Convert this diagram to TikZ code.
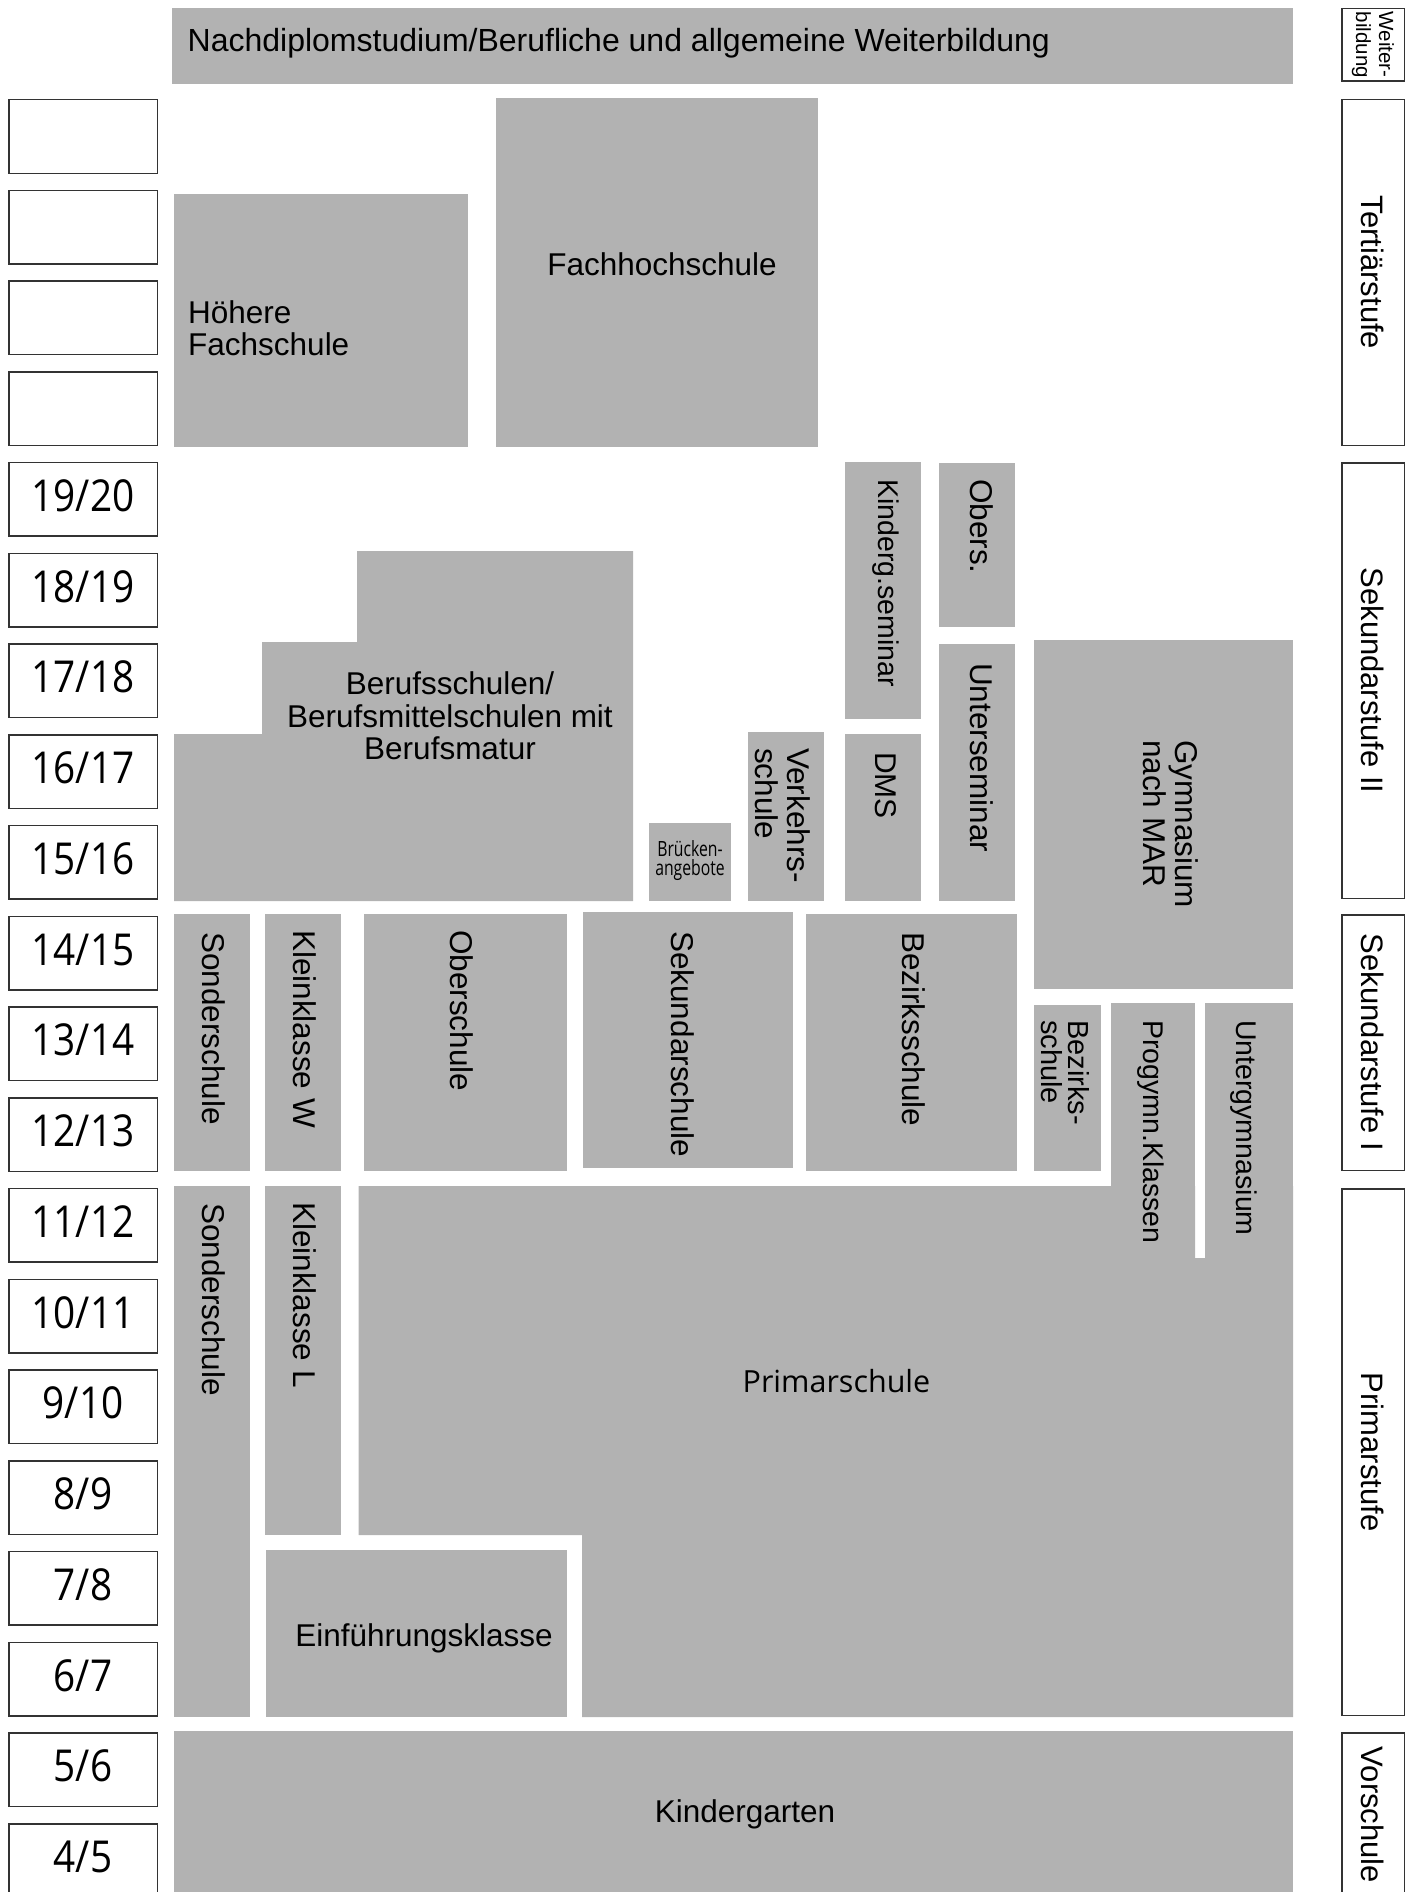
\documentclass[tikz,border=0pt]{standalone}
\usepackage{fontspec}
\setmainfont{Liberation Sans}
\newfontfamily\agefont[FakeStretch=0.88]{Open Sans}
\newfontfamily\primfont{Open Sans}
\newfontfamily\narrowfont[FakeStretch=0.75]{Open Sans}
\usetikzlibrary{positioning}
\definecolor{boxgray}{RGB}{178,178,178}

\begin{document}
\begin{tikzpicture}[x=1pt, y=-1pt, node distance=15.74pt,
  age/.style={rectangle, draw=black!80, line width=1.5pt, fill=white, minimum width=148.5pt, minimum height=73.5pt,
    inner sep=0pt, text height=31pt, text depth=7pt, font=\agefont\fontsize{44}{44}\selectfont},
  stage/.style={rectangle, draw=black!80, line width=1.5pt, rotate=-90, minimum height=62.5pt, inner sep=0pt,
    font=\fontsize{31}{32}\selectfont},
  school/.style={fill=boxgray},
  lbl/.style={inner sep=0pt, font=\fontsize{31.5}{32}\selectfont},
  vlbl/.style={lbl, rotate=-90, anchor=west, align=left}]
  \useasboundingbox (0,0) rectangle (1414,1892);
  \node[age] (a0) at (83,136.5) {};
  \node[age, below=of a0] (a1) {};
  \node[age, below=of a1] (a2) {};
  \node[age, below=of a2] (a3) {};
  \node[age, below=of a3] (a4) {19/20};
  \node[age, below=of a4] (a5) {18/19};
  \node[age, below=of a5] (a6) {17/18};
  \node[age, below=of a6] (a7) {16/17};
  \node[age, below=of a7] (a8) {15/16};
  \node[age, below=of a8] (a9) {14/15};
  \node[age, below=of a9] (a10) {13/14};
  \node[age, below=of a10] (a11) {12/13};
  \node[age, below=of a11] (a12) {11/12};
  \node[age, below=of a12] (a13) {10/11};
  \node[age, below=of a13] (a14) {9/10};
  \node[age, below=of a14] (a15) {8/9};
  \node[age, below=of a15] (a16) {7/8};
  \node[age, below=of a16] (a17) {6/7};
  \node[age, below=of a17] (a18) {5/6};
  \node[age, below=of a18] (a19) {4/5};
  \node[stage, minimum width=72.5pt, align=left, font=\fontsize{20.5}{23}\selectfont] (weiter) at (1373,45) {Weiter-\\bildung};
  \node[stage, minimum width=345.5pt] (tert) at (1373,272.5) {Tertiärstufe};
  \node[stage, minimum width=435.5pt] (sek2) at (1373,680.5) {Sekundarstufe II};
  \node[stage, minimum width=255.5pt] (sek1) at (1373,1042.5) {Sekundarstufe I};
  \node[stage, minimum width=526.5pt] (prims) at (1373,1452) {Primarstufe};
  \node[stage, minimum width=164.5pt] (vors) at (1373,1815) {Vorschule};
  \fill[school] (172,8) rectangle (1293,84);
  \node[lbl, anchor=base west, font=\fontsize{32}{32}\selectfont] (nach) at (187.5,52) {Nachdiplomstudium/Berufliche und allgemeine Weiterbildung};
  \fill[school] (174,194) rectangle (468,447);
  \node[lbl, anchor=west, align=left] (hfs) at (188,328) {Höhere\\Fachschule};
  \fill[school] (495.5,98) rectangle (818,447);
  \node[lbl, anchor=base] (fh) at (662,275) {Fachhochschule};
  \fill[school] (174,901) -- (174,734) -- (262,734) -- (262,642) -- (357,642) -- (357,551) -- (633,551) -- (633,901) -- cycle;
  \node[lbl, align=center, font=\fontsize{31.5}{32.5}\selectfont] (bms) at (450,716) {Berufsschulen/\\Berufsmittelschulen mit\\Berufsmatur};
  \fill[school] (649,823) rectangle (731,901);
  \node[inner sep=0pt, align=center, font=\narrowfont\fontsize{21}{19}\selectfont] (bruecke) at (690,861) {Brücken-\\angebote};
  \fill[school] (748,732) rectangle (824,901);
  \node[vlbl] (verk) at (783,748) {Verkehrs-\\schule};
  \fill[school] (845,462) rectangle (921,719);
  \node[vlbl, font=\fontsize{28.5}{30}\selectfont] (kgs) at (886,479) {Kinderg.seminar};
  \fill[school] (845,734) rectangle (921,901);
  \node[vlbl, font=\fontsize{30}{32}\selectfont] (dms) at (886,752) {DMS};
  \fill[school] (939,463) rectangle (1015,627);
  \node[vlbl] (obs) at (982,479) {Obers.};
  \fill[school] (939,644) rectangle (1015,901);
  \node[vlbl] (useminar) at (982,663) {Unterseminar};
  \fill[school] (1034,640) rectangle (1293,989);
  \node[vlbl] (gym) at (1171,740) {Gymnasium\\nach MAR};
  \fill[school] (174,914) rectangle (250,1171);
  \node[vlbl] (sond1) at (214,932) {Sonderschule};
  \fill[school] (265,914) rectangle (341,1171);
  \node[vlbl] (kkw) at (305,930) {Kleinklasse W};
  \fill[school] (364,914) rectangle (567,1171);
  \node[vlbl] (obsch) at (462,930) {Oberschule};
  \fill[school] (582.5,912) rectangle (793,1168);
  \node[vlbl] (seksch) at (683,931) {Sekundarschule};
  \fill[school] (806,914) rectangle (1017,1171);
  \node[vlbl] (bez) at (914,932) {Bezirksschule};
  \fill[school] (1034,1005) rectangle (1101,1171);
  \node[vlbl, font=\fontsize{29}{26.6}\selectfont] (bez2) at (1065.5,1020) {Bezirks-\\schule};
  \fill[school] (358.5,1186) -- (1195,1186) -- (1195,1258) -- (1205,1258) -- (1205,1186) -- (1293,1186) -- (1293,1717) -- (582,1717) -- (582,1535) -- (358.5,1535) -- cycle;
  \node[lbl, anchor=base, font=\primfont\fontsize{30.5}{32}\selectfont] (prim) at (836.5,1392) {Primarschule};
  \fill[school] (1111,1003) rectangle (1195,1258);
  \node[vlbl, font=\fontsize{28.5}{30}\selectfont] (progym) at (1151,1020) {Progymn.Klassen};
  \fill[school] (1205,1003) rectangle (1293,1190);
  \node[vlbl, font=\fontsize{28.5}{30}\selectfont] (ugym) at (1244,1020) {Untergymnasium};
  \fill[school] (174,1186) rectangle (250,1717);
  \node[vlbl] (sond2) at (214,1203) {Sonderschule};
  \fill[school] (265,1186) rectangle (341,1535);
  \node[vlbl] (kkl) at (305,1202) {Kleinklasse L};
  \fill[school] (266,1550) rectangle (567,1717);
  \node[lbl, anchor=base] (einf) at (424,1646) {Einführungsklasse};
  \fill[school] (174,1731) rectangle (1293,1900);
  \node[lbl, anchor=base] (kg) at (745,1822) {Kindergarten};
\end{tikzpicture}
\end{document}
